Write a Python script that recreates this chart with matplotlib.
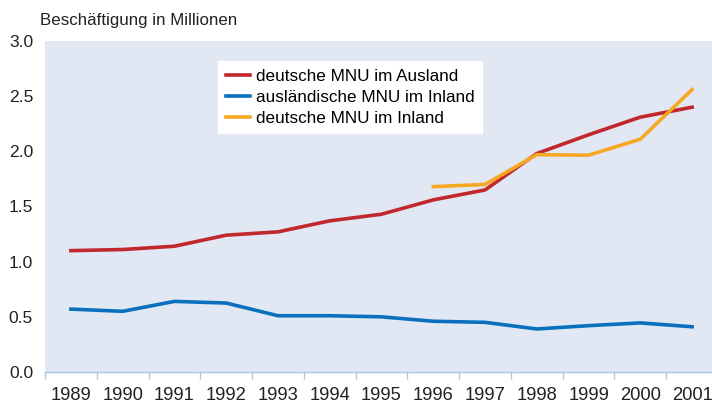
import numpy as np
import matplotlib.pyplot as plt

plt.rcParams['font.family'] = ['Liberation Sans', 'DejaVu Sans']

years = ['1989', '1990', '1991', '1992', '1993', '1994', '1995',
         '1996', '1997', '1998', '1999', '2000', '2001']

# deutsche MNU im Ausland
dt_ausland = [1.10, 1.11, 1.14, 1.24, 1.27, 1.37, 1.43, 1.56, 1.65, 1.98, 2.15, 2.31, 2.40]
# auslaendische MNU im Inland
ausl_inland = [0.57, 0.55, 0.64, 0.625, 0.51, 0.51, 0.50, 0.46, 0.45, 0.39, 0.42, 0.445, 0.41]
# deutsche MNU im Inland (ab 1996)
dt_inland_years = ['1996', '1997', '1998', '1999', '2000', '2001']
dt_inland = [1.68, 1.70, 1.97, 1.965, 2.11, 2.56]

fig = plt.figure(figsize=(7.12, 4.03), dpi=100)
ax = fig.add_axes([45 / 712, 31 / 403, 673 / 712, 331 / 403])
ax.set_facecolor('#E1E8F4')

x = np.arange(len(years))
x_in = [years.index(y) for y in dt_inland_years]

ax.plot(x, dt_ausland, color='#C1272D', lw=2.6, label='deutsche MNU im Ausland')
ax.plot(x, ausl_inland, color='#0A70BE', lw=2.6, label='ausländische MNU im Inland')
ax.plot(x_in, dt_inland, color='#F7A823', lw=2.6, label='deutsche MNU im Inland')

ax.set_xlim(-0.5, len(years) - 0.5)
ax.set_ylim(0, 3.0)
ax.set_yticks(np.arange(0, 3.01, 0.5))
ax.set_yticklabels([f'{v:.1f}' for v in np.arange(0, 3.01, 0.5)])

ax.set_xticks(x)
ax.set_xticklabels(years)
ax.set_xticks(np.arange(-0.5, len(years), 1), minor=True)
ax.tick_params(axis='x', which='major', length=0, pad=11, labelsize=13.2, colors='#222222')
ax.tick_params(axis='x', which='minor', length=5, width=1, color='#A9C8E6', direction='out')
ax.tick_params(axis='y', length=0, pad=8.6, labelsize=12.6, colors='#222222')

for s in ['top', 'right', 'left']:
    ax.spines[s].set_visible(False)
ax.spines['bottom'].set_color('#A9C8E6')
ax.spines['bottom'].set_linewidth(1)

fig.text(40 / 712, 1 - 20 / 403, 'Beschäftigung in Millionen', fontsize=12.2,
         color='#222222', va='center', ha='left')

leg = ax.legend(loc='upper left', bbox_to_anchor=((218 - 45) / 673, (403 - 61 - 31) / 331),
                frameon=True, fancybox=False, fontsize=12.3, handlelength=1.45,
                handletextpad=0.3, borderpad=0.45, labelspacing=0.35, borderaxespad=0)
leg.get_frame().set_facecolor('white')
leg.get_frame().set_edgecolor('white')
leg.get_frame().set_alpha(1)

fig.savefig('out.png', dpi=100)
